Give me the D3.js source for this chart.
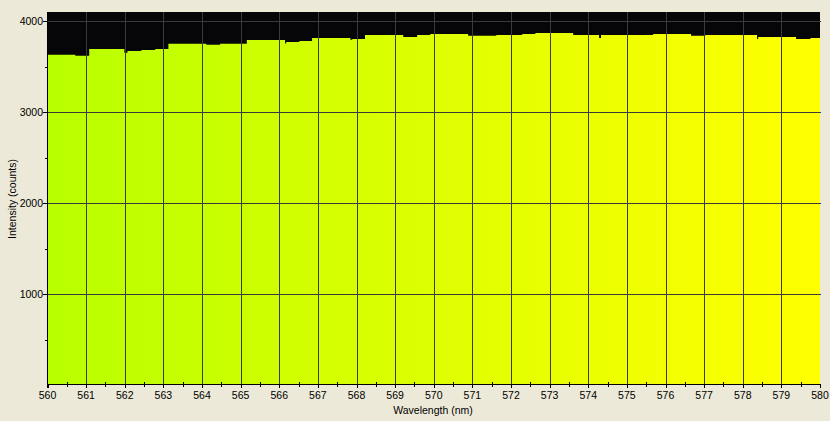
<!DOCTYPE html>
<html>
<head>
<meta charset="utf-8">
<script src="https://cdn.jsdelivr.net/npm/d3@7"></script>
<style>
  html, body { margin: 0; padding: 0; background: #ECE9D8; }
  svg { display: block; }
  text { font-family: "Liberation Sans", Arial, sans-serif; font-size: 10.5px; fill: #000; }
</style>
</head>
<body>
<svg id="chart" width="830" height="421"></svg>
<script>
// Step start wavelengths (nm) and intensity counts
const stepStart = [560.00, 560.72, 561.08, 561.99, 562.07, 562.43, 562.79, 563.13, 564.11, 564.47,
                   565.16, 566.15, 566.18, 566.52, 566.85, 567.84, 567.89, 568.22, 569.21, 569.57,
                   569.91, 570.89, 571.62, 572.29, 572.63, 573.61, 574.28, 574.33, 575.68, 576.66,
                   577.03, 578.37, 578.40, 579.38, 579.75];
const counts    = [3631, 3620, 3693, 3653, 3671, 3682, 3693, 3752, 3741, 3752,
                   3792, 3754, 3770, 3781, 3814, 3796, 3803, 3847, 3825, 3847,
                   3858, 3840, 3847, 3858, 3869, 3847, 3814, 3847, 3858, 3840,
                   3847, 3803, 3825, 3803, 3814];
const xTicks = d3.range(560, 581, 1);
const xMinorTicks = d3.range(560.5, 580, 1);
const yTicks = [1000, 2000, 3000, 4000];
const yMinorTicks = [500, 1500, 2500, 3500];

const svg = d3.select("#chart");
const pL = 47.5, pR = 820, pT = 12, pB = 384;

const x = d3.scaleLinear().domain([560, 580]).range([pL, pR]);
const y = d3.scaleLinear().domain([0, 4100]).range([385, pT]);

const data = stepStart.map((w, i) => ({ w, v: counts[i] }));
data.push({ w: 580, v: counts[counts.length - 1] });

const defs = svg.append("defs");
const grad = defs.append("linearGradient").attr("id", "spec")
  .attr("gradientUnits", "userSpaceOnUse")
  .attr("x1", x(560)).attr("x2", x(580)).attr("y1", 0).attr("y2", 0);
grad.append("stop").attr("offset", "0%").attr("stop-color", "#B8FF00");
grad.append("stop").attr("offset", "50%").attr("stop-color", "#DEFF00");
grad.append("stop").attr("offset", "100%").attr("stop-color", "#FFFF00");

defs.append("clipPath").attr("id", "plotclip")
  .append("rect").attr("x", pL).attr("y", pT).attr("width", pR - pL).attr("height", pB - pT);

// plot background
svg.append("rect").attr("x", pL).attr("y", pT)
  .attr("width", pR - pL).attr("height", pB - pT).attr("fill", "#060608");

const area = d3.area()
  .x(d => x(d.w))
  .y0(pB)
  .y1(d => y(d.v))
  .curve(d3.curveStepAfter);

svg.append("path").datum(data)
  .attr("clip-path", "url(#plotclip)")
  .attr("d", area)
  .attr("fill", "url(#spec)");

// grid
const grid = svg.append("g").attr("stroke", "#3a3a3a").attr("stroke-width", 1).attr("shape-rendering", "crispEdges");
grid.selectAll("line.v").data(xTicks.slice(1, -1)).join("line")
  .attr("x1", d => Math.round(x(d)) + 0.5).attr("x2", d => Math.round(x(d)) + 0.5)
  .attr("y1", pT).attr("y2", pB);
grid.selectAll("line.h").data(yTicks).join("line")
  .attr("x1", pL).attr("x2", pR + 1)
  .attr("y1", d => Math.round(y(d)) + 0.5).attr("y2", d => Math.round(y(d)) + 0.5);

// x axis
const xAxis = svg.append("g").attr("shape-rendering", "crispEdges");
xAxis.append("line").attr("x1", pL - 1).attr("x2", pR).attr("y1", pB + 0.5).attr("y2", pB + 0.5).attr("stroke", "#000");
xAxis.selectAll("line.maj").data(xTicks).join("line")
  .attr("x1", d => Math.round(x(d)) + 0.5).attr("x2", d => Math.round(x(d)) + 0.5)
  .attr("y1", pB).attr("y2", pB + 4).attr("stroke", "#000");
xAxis.selectAll("line.min").data(xMinorTicks).join("line")
  .attr("x1", d => Math.round(x(d)) + 0.5).attr("x2", d => Math.round(x(d)) + 0.5)
  .attr("y1", pB - 2).attr("y2", pB + 3).attr("stroke", "#000");
xAxis.selectAll("text").data(xTicks).join("text")
  .attr("x", d => x(d)).attr("y", 399)
  .attr("text-anchor", "middle")
  .text(d => d);

// y axis
const yAxis = svg.append("g").attr("shape-rendering", "crispEdges");
yAxis.append("line").attr("x1", pL - 0.5).attr("x2", pL - 0.5).attr("y1", pT).attr("y2", pB + 4).attr("stroke", "#000");
yAxis.selectAll("line.maj").data(yTicks).join("line")
  .attr("x1", pL - 5).attr("x2", pL)
  .attr("y1", d => Math.round(y(d)) + 0.5).attr("y2", d => Math.round(y(d)) + 0.5).attr("stroke", "#000");
yAxis.selectAll("line.min").data(yMinorTicks).join("line")
  .attr("x1", pL - 3).attr("x2", pL)
  .attr("y1", d => Math.round(y(d)) + 0.5).attr("y2", d => Math.round(y(d)) + 0.5).attr("stroke", "#000");
yAxis.selectAll("text").data(yTicks).join("text")
  .attr("x", 43).attr("y", d => y(d) + 4)
  .attr("text-anchor", "end")
  .text(d => d);

// axis titles
svg.append("text").attr("x", 433).attr("y", 414).attr("text-anchor", "middle").text("Wavelength (nm)");
svg.append("text").attr("transform", "translate(16,199) rotate(-90)").attr("text-anchor", "middle").text("Intensity (counts)");
</script>
</body>
</html>
